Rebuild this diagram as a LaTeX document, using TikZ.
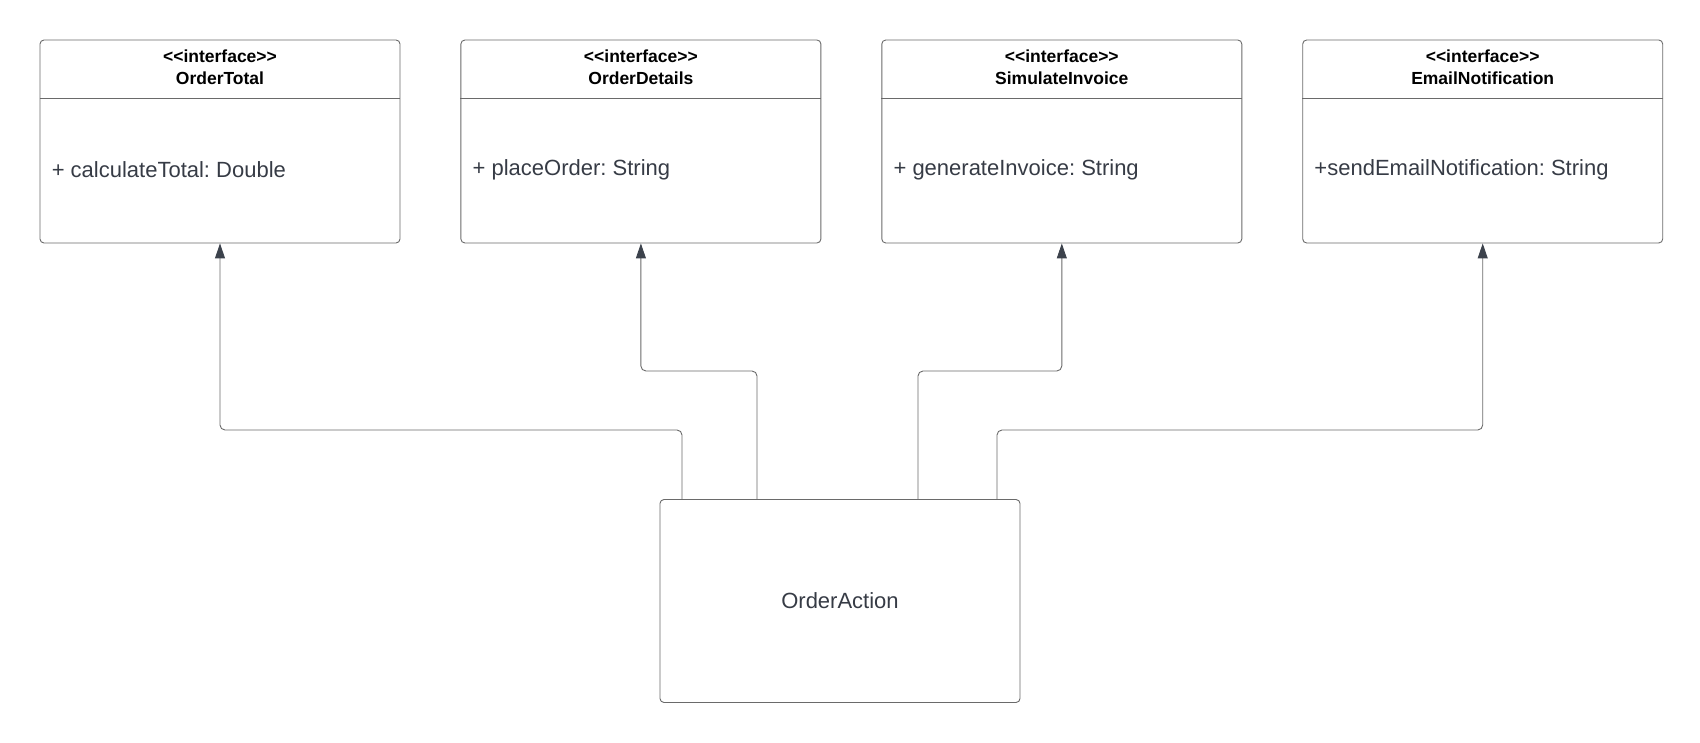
\documentclass[tikz,border=0pt]{standalone}
\usepackage{fontspec}
\setmainfont{Liberation Sans}
\usetikzlibrary{positioning,arrows.meta}

\definecolor{linegray}{HTML}{6A6A6A}
\definecolor{tipgray}{HTML}{3C424C}
\definecolor{textgray}{HTML}{363B45}

\newcommand{\stereo}[1]{<{}<#1>{}>}

\tikzset{
  iface/.style={draw=linegray, line width=0.9pt, rounded corners=4pt,
    minimum width=360pt, minimum height=203pt, inner sep=0pt},
  head/.style={font=\bfseries\fontsize{17.5}{21.6}\selectfont, align=center, text=black},
  member/.style={font=\fontsize{22}{26}\selectfont, text=textgray, anchor=west, inner sep=0pt},
  realize/.style={draw=linegray, line width=0.9pt, rounded corners=5pt,
    -{Triangle[width=10pt,length=15pt,color=tipgray]}},
}

\begin{document}
\frenchspacing
\begin{tikzpicture}[x=1pt,y=-1pt]

\useasboundingbox (0,0) rectangle (1700,743);

% the four interfaces
\node[iface] (total) at (220,141.5) {};
\node[iface, right=60pt of total] (details) {};
\node[iface, right=60pt of details] (invoice) {};
\node[iface, right=60pt of invoice] (email) {};

\foreach \n/\t/\m in {total/OrderTotal/+ calculateTotal: Double,
                      details/OrderDetails/+ placeOrder: String,
                      invoice/SimulateInvoice/+ generateInvoice: String,
                      email/EmailNotification/+sendEmailNotification: String}
{
  \draw[linegray, line width=0.9pt] ([yshift=-59pt]\n.north west) -- ([yshift=-59pt]\n.north east);
  \node[head] (\n-head) at ([yshift=-27.5pt]\n.north) {\stereo{interface}\\\t};
  \node[member] (\n-op) at ([xshift=12pt,yshift=-28pt]\n.west) {\m};
}

% the class
\node[iface, font=\fontsize{22}{26}\selectfont, text=textgray] (action) at (840,601) {OrderAction};

\coordinate (a1) at ([xshift=-158pt]action.north);
\coordinate (a2) at ([xshift=-83pt]action.north);
\coordinate (a3) at ([xshift=78pt]action.north);
\coordinate (a4) at ([xshift=157pt]action.north);
\coordinate (low) at (0,430);
\coordinate (high) at (0,371);

\draw[realize] (a1) -- (a1 |- low) -| (total.south);
\draw[realize] (a2) -- (a2 |- high) -| (details.south);
\draw[realize] (a3) -- (a3 |- high) -| (invoice.south);
\draw[realize] (a4) -- (a4 |- low) -| (email.south);

\end{tikzpicture}
\end{document}
